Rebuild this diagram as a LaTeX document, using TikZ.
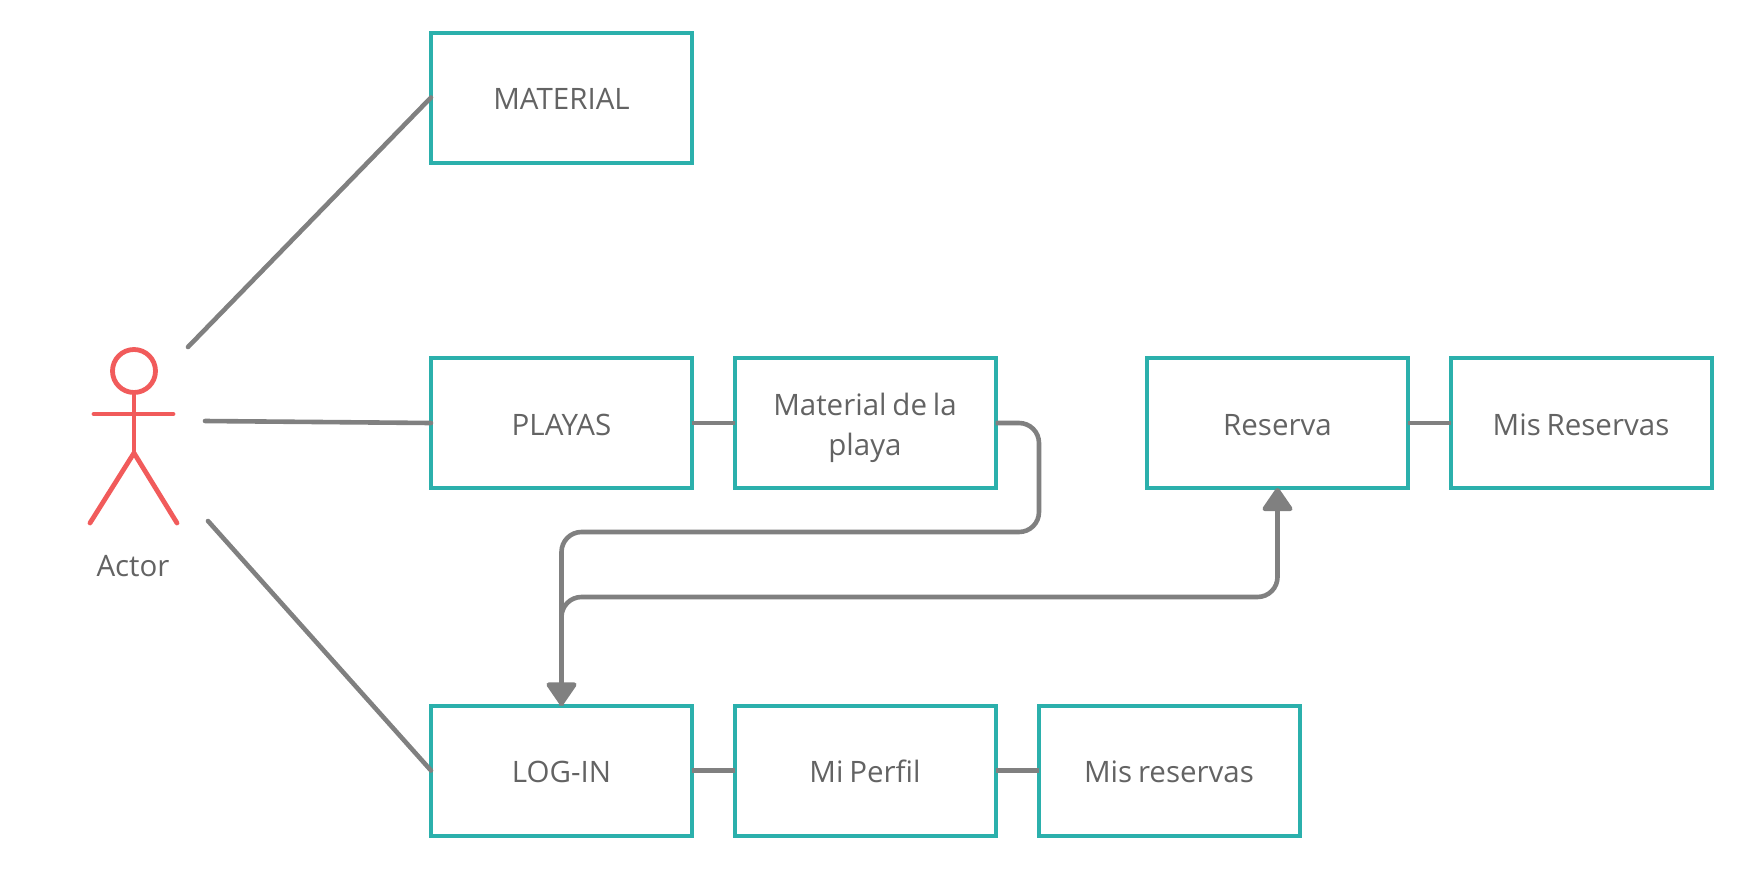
\documentclass[tikz,border=0pt]{standalone}
\usepackage{fontspec}
\setmainfont{Open Sans}
\usetikzlibrary{arrows.meta}
\definecolor{boxteal}{HTML}{2BB0AC}
\definecolor{actorred}{HTML}{F15B5B}
\definecolor{linkgray}{HTML}{808080}
\definecolor{labelgray}{HTML}{636363}
\newcommand{\tightwords}{\spaceskip=5.8pt\relax\xspaceskip=5.8pt\relax}
\tikzset{
  lift/.style={execute at begin node={\tightwords\rule{0pt}{#1}}},
  screen/.style={draw=boxteal,line width=4pt,minimum width=261pt,minimum height=130pt,
    inner sep=0pt,outer sep=0pt,align=center,text width=240pt,text=labelgray,font=\fontsize{29.5pt}{40pt}\selectfont,lift=24.5pt},
  link/.style={draw=linkgray,line width=4.6pt},
  assoc/.style={link,line cap=round},
  flow/.style={link,rounded corners=20pt},
  tip/.style={-{Triangle[length=25pt,width=33pt,round]}},
  stick/.style={draw=actorred,line width=4.8pt,line cap=round},
}
\begin{document}
\begin{tikzpicture}[x=1pt,y=-1pt]
\useasboundingbox (0,0) rectangle (1751,889);
% boxes
\node[screen] (material) at (561.5,97.5) {MATERIAL};
\node[screen] (playas) at (561.5,423) {PLAYAS};
\node[screen,lift=33pt] (matplaya) at (865,423) {Material de la\\playa};
\node[screen] (reserva) at (1277.5,423) {Reserva};
\node[screen] (misres) at (1581,423) {Mis Reservas};
\node[screen] (login) at (561.5,770.5) {LOG-IN};
\node[screen] (perfil) at (865,770.5) {Mi Perfil};
\node[screen] (misreservas) at (1169,770.5) {Mis reservas};
% actor
\node[circle,draw=actorred,line width=4.8pt,minimum size=43pt,inner sep=0pt,outer sep=0pt] (head) at (134,371) {};
\coordinate (hip) at (134,453);
\coordinate (armL) at (94,414);
\coordinate (armR) at (173,414);
\coordinate (legL) at (90,523);
\coordinate (legR) at (177,523);
\draw[stick] (head.south) -- (hip);
\draw[stick] (armL) -- (armR);
\draw[stick,line join=round] (legL) -- (hip) -- (legR);
\node[text=labelgray,font=\fontsize{29.5pt}{34pt}\selectfont,inner sep=0pt] (actor) at (133,566) {Actor};
% actor associations
\coordinate (a1) at (188,347);
\coordinate (a2) at (205,421);
\coordinate (a3) at (208,521);
\draw[assoc] (a1) -- (material.west);
\draw[assoc] (a2) -- (playas.west);
\draw[assoc] (a3) -- (login.west);
% plain links
\draw[link] (playas.east) -- (matplaya.west);
\draw[link] (reserva.east) -- (misres.west);
\draw[link] (login.east) -- (perfil.west);
\draw[link] (perfil.east) -- (misreservas.west);
% routed flows
\draw[flow,tip] (matplaya.east) -- (1039,423) -- (1039,532) -- (561.5,532) -- (login.north);
\draw[flow,tip] (login.north) -- (561.5,597) -- (1277.5,597) -- (reserva.south);
\end{tikzpicture}
\end{document}
